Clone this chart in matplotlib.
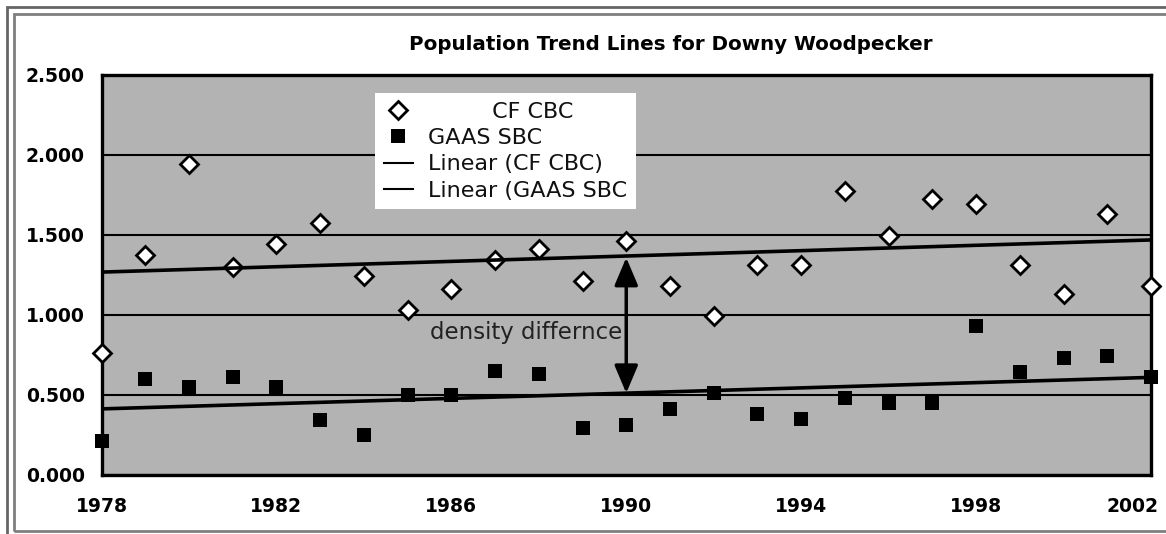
import numpy as np
import matplotlib.pyplot as plt
import matplotlib.transforms as mtransforms
from matplotlib.patches import Rectangle, FancyArrowPatch
from matplotlib.lines import Line2D

W, H = 1166, 534

years = list(range(1978, 2003))
cf_cbc = [0.76, 1.37, 1.94, 1.30, 1.44, 1.57, 1.24, 1.03,
          1.16, 1.34, 1.41, 1.21, 1.46, 1.18, 0.99, 1.31,
          1.31, 1.77, 1.49, 1.72, 1.69, 1.31, 1.13, 1.63, 1.18]
gaas_sbc = [0.21, 0.60, 0.55, 0.61, 0.55, 0.34, 0.25, 0.50,
            0.50, 0.65, 0.63, 0.29, 0.31, 0.41, 0.51, 0.38,
            0.35, 0.48, 0.45, 0.45, 0.93, 0.64, 0.73, 0.74, 0.61]
# trend line values at 1978 and 2002
cf_trend = [1.265, 1.466]
gaas_trend = [0.41, 0.607]
trend_years = [1978, 2002]

x_ticks = [1978, 1982, 1986, 1990, 1994, 1998, 2002]
y_ticks = [0.0, 0.5, 1.0, 1.5, 2.0, 2.5]
legend_labels = ['         CF CBC', 'GAAS SBC', 'Linear (CF CBC)', 'Linear (GAAS SBC']
arrow_year = 1990

fig = plt.figure(figsize=(W / 100, H / 100), dpi=100)
fig.patch.set_facecolor('white')

def px(x, y):
    return (x / W, 1 - y / H)

# double frame, runs off the right and bottom edges like the original
for (x0, y0, y1), col in [((7, 7, 545), '#666666'), ((13.5, 13.5, 530.5), '#7f7f7f')]:
    fx, fy = px(x0, y0)
    by = px(0, y1)[1]
    fig.add_artist(Rectangle((fx, by), 1.2, fy - by, transform=fig.transFigure,
                             fill=False, edgecolor=col, lw=2))

l, b = px(101.5, 474.5)
r_, t = px(1151, 74.5)
ax = fig.add_axes([l, b, r_ - l, t - b])
ax.set_facecolor('#b3b3b3')

ax.set_xlim(1978, 2002)
ax.set_ylim(0, 2.5)
ax.set_yticks(y_ticks)
ax.set_yticklabels(['%.3f' % v for v in y_ticks])
ax.set_xticks(x_ticks)
ax.set_xticklabels([str(v) for v in x_ticks])
ax.tick_params(length=0, labelsize=13.5)
ax.tick_params(axis='y', pad=12)
ax.tick_params(axis='x', pad=16)
for lab in ax.get_xticklabels() + ax.get_yticklabels():
    lab.set_fontweight('bold')
last = ax.get_xticklabels()[-1]
last.set_transform(last.get_transform() + mtransforms.ScaledTranslation(-0.18, 0, fig.dpi_scale_trans))

ax.yaxis.grid(True, color='black', lw=1.5)
ax.set_axisbelow(True)
for s in ax.spines.values():
    s.set_linewidth(2.4)
    s.set_zorder(3)

ax.plot(years, cf_cbc, ls='none', marker='D', ms=9, mfc='white', mec='black',
        mew=2, clip_on=False, zorder=4)
ax.plot(years, gaas_sbc, ls='none', marker='s', ms=10.5, mfc='black', mec='black',
        mew=0, clip_on=False, zorder=4)
ax.plot(trend_years, cf_trend, color='black', lw=2.6, zorder=5, solid_capstyle='butt')
ax.plot(trend_years, gaas_trend, color='black', lw=2.6, zorder=5, solid_capstyle='butt')

top = np.interp(arrow_year, trend_years, cf_trend) - 0.01
bot = np.interp(arrow_year, trend_years, gaas_trend)
arr = FancyArrowPatch((arrow_year, bot), (arrow_year, top),
                      arrowstyle='<|-|>,head_length=1.7,head_width=0.72',
                      mutation_scale=10, color='black', lw=2.5,
                      shrinkA=0, shrinkB=0, zorder=6)
ax.add_patch(arr)
ax.text(1985.52, 0.89, 'density differnce', fontsize=16.5, color='#222222',
        ha='left', va='center', zorder=6)

handles = [Line2D([], [], ls='none', marker='D', ms=9, mfc='white', mec='black', mew=2),
           Line2D([], [], ls='none', marker='s', ms=10.5, mfc='black', mec='black', mew=0),
           Line2D([], [], color='black', lw=1.5),
           Line2D([], [], color='black', lw=1.5)]
leg = ax.legend(handles, legend_labels, loc='upper left',
                bbox_to_anchor=px(375, 93), bbox_transform=fig.transFigure,
                borderaxespad=0, frameon=True, fancybox=False, framealpha=1,
                facecolor='white', edgecolor='none', fontsize=16,
                handlelength=1.3, handletextpad=0.7, labelspacing=0.28,
                borderpad=0.4)
leg.set_zorder(7)
for txt in leg.get_texts():
    txt.set_color('#111111')

fig.text(671 / W, 1 - 44 / H, 'Population Trend Lines for Downy Woodpecker',
         ha='center', va='center', fontsize=14.3, fontweight='bold')

fig.savefig('out.png', dpi=100)
